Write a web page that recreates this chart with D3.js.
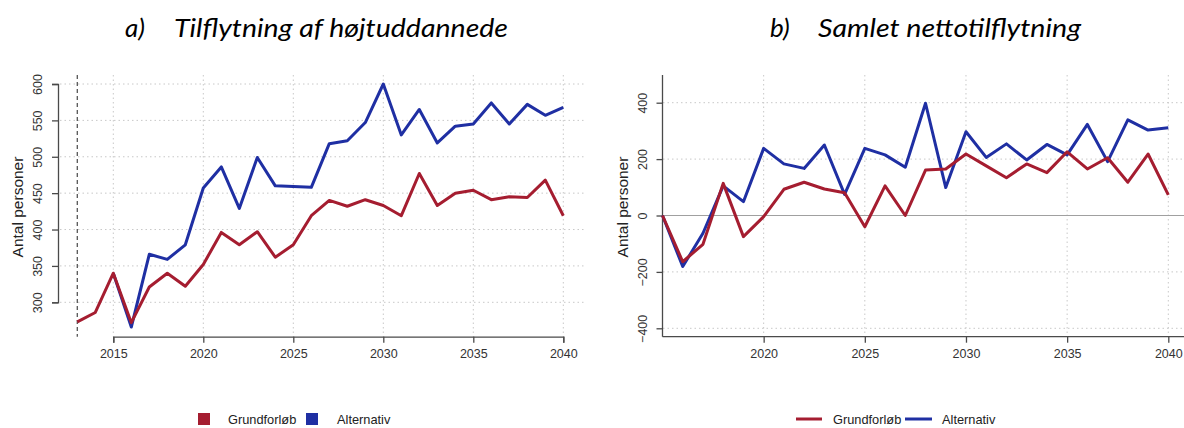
<!DOCTYPE html>
<html><head><meta charset="utf-8">
<script src="https://cdn.jsdelivr.net/npm/d3@7"></script>
<style>body{margin:0;background:#fff}svg{display:block}</style>
</head><body>
<svg id="c" width="1184" height="428"></svg>
<script>
// ---------- data ----------
const yearsA = d3.range(2013, 2041);
const grundA = [273,286,340,272,321,340,322,352,396,379,397,362,379,419,440,432,441,433,419,477,433,450,454,441,445,444,468,419];
const altYearsA = d3.range(2015, 2041);
const altA = [340,266,366,359,379,457,486,429,499,460,459,458,518,522,547,600,530,565,519,542,545,574,545,572,557,568];
const yearsB = d3.range(2015, 2041);
const grundB = [0,-164,-102,114,-75,-4,93,118,94,81,-40,105,0,161,165,218,176,134,183,152,226,165,205,118,218,73];
const altB = [0,-181,-63,105,49,238,183,167,250,75,238,215,171,398,99,297,206,254,197,252,215,323,191,339,303,311];
const xTicks = [2015,2020,2025,2030,2035,2040];
const xTicksB = [2020,2025,2030,2035,2040];
const yTicksA = [300,350,400,450,500,550,600];
const yTicksB = [-400,-200,0,200,400];
const titles = ["a)", "Tilflytning af højtuddannede", "b)", "Samlet nettotilflytning"];
const seriesNames = ["Grundforløb", "Alternativ"];
const colors = ["#a51d30", "#1f2fa3"];

const svg = d3.select("#c");
const font = "Liberation Sans, Arial, sans-serif";
const gridCol = "#c8c8c8", axisCol = "#4a4a4a", txtCol = "#333";

// ---------- titles ----------
const tf = "Lato, 'Open Sans', sans-serif";
function title(x, t, len) {
  const el = svg.append("text").attr("x", x).attr("y", 37).attr("font-family", tf)
    .attr("font-style", "italic").attr("font-size", 26).attr("fill", "#000").text(t);
  if (len) el.attr("textLength", len).attr("lengthAdjust", "spacingAndGlyphs");
}
title(125, titles[0]); title(174, titles[1], 334);
title(770, titles[2]); title(818, titles[3], 263);

// ---------- panel A ----------
const xA = d3.scaleLinear().domain([2015, 2040]).range([113.3, 563.3]);
const yA = d3.scaleLinear().domain([300, 600]).range([302.3, 84]);
const gA = svg.append("g");
const topY = 75, botY = 336.7;
gA.selectAll(".vg").data(xTicks).join("line").attr("x1", d => xA(d)).attr("x2", d => xA(d))
  .attr("y1", topY).attr("y2", botY).attr("stroke", gridCol).attr("stroke-dasharray", "1.5,3");
gA.selectAll(".hg").data(yTicksA).join("line").attr("x1", 60).attr("x2", 584)
  .attr("y1", d => yA(d)).attr("y2", d => yA(d)).attr("stroke", gridCol).attr("stroke-dasharray", "1.5,3");
gA.append("line").attr("x1", xA(2013)).attr("x2", xA(2013)).attr("y1", topY).attr("y2", botY)
  .attr("stroke", "#555").attr("stroke-width", 1.3).attr("stroke-dasharray", "4,3");
const axA = gA.append("g").attr("transform", `translate(0,${botY})`)
  .call(d3.axisBottom(xA).tickValues(xTicks).tickFormat(d3.format("d")).tickSizeOuter(0).tickSize(6));
const ayA = gA.append("g").attr("transform", "translate(58,0)")
  .call(d3.axisLeft(yA).tickValues(yTicksA).tickSizeOuter(0).tickSize(6));
[axA, ayA].forEach(a => {
  a.select(".domain").attr("stroke", axisCol).attr("stroke-width", 1.3);
  a.selectAll(".tick line").attr("stroke", axisCol).attr("stroke-width", 1.3);
  a.selectAll("text").attr("font-family", font).attr("font-size", 12.5).attr("fill", txtCol);
});
axA.selectAll("text").attr("y", 12);
ayA.selectAll(".tick text").attr("x", 0).attr("dy", null)
  .attr("transform", "translate(-20,0) rotate(-90)").attr("text-anchor", "middle").attr("dominant-baseline", "central");
svg.append("text").attr("transform", "translate(17,207) rotate(-90)").attr("text-anchor", "middle")
  .attr("dominant-baseline", "central").attr("font-family", font).attr("font-size", 15.5).attr("fill", "#222").text("Antal personer");
const lineA = d3.line().x(d => xA(d[0])).y(d => yA(d[1]));
gA.append("path").datum(d3.zip(altYearsA, altA)).attr("d", lineA).attr("fill", "none")
  .attr("stroke", colors[1]).attr("stroke-width", 3).attr("stroke-linejoin", "round");
gA.append("path").datum(d3.zip(yearsA, grundA)).attr("d", lineA).attr("fill", "none")
  .attr("stroke", colors[0]).attr("stroke-width", 3).attr("stroke-linejoin", "round");

// ---------- panel B ----------
const xB = d3.scaleLinear().domain([2015, 2040]).range([662.5, 1168.3]);
const yB = d3.scaleLinear().domain([-400, 400]).range([328.3, 102.7]);
const gB = svg.append("g");
gB.selectAll(".vg").data(xTicksB).join("line").attr("x1", d => xB(d)).attr("x2", d => xB(d))
  .attr("y1", topY).attr("y2", botY).attr("stroke", gridCol).attr("stroke-dasharray", "1.5,3");
gB.selectAll(".hg").data(yTicksB.filter(d => d !== 0)).join("line").attr("x1", 663).attr("x2", 1184)
  .attr("y1", d => yB(d)).attr("y2", d => yB(d)).attr("stroke", gridCol).attr("stroke-dasharray", "1.5,3");
gB.append("line").attr("x1", 663).attr("x2", 1184).attr("y1", yB(0)).attr("y2", yB(0))
  .attr("stroke", "#a0a0a0").attr("stroke-width", 1);
const axB = gB.append("g").attr("transform", `translate(0,${botY})`)
  .call(d3.axisBottom(xB).tickValues(xTicksB).tickFormat(d3.format("d")).tickSizeOuter(0).tickSize(6));
axB.select(".domain").attr("d", `M662.5,0H1184`);
const ayB = gB.append("g").attr("transform", "translate(662.5,0)")
  .call(d3.axisLeft(yB).tickValues(yTicksB).tickSizeOuter(0).tickSize(6));
ayB.select(".domain").attr("d", `M0,${topY}V${botY}`);
[axB, ayB].forEach(a => {
  a.select(".domain").attr("stroke", axisCol).attr("stroke-width", 1.3);
  a.selectAll(".tick line").attr("stroke", axisCol).attr("stroke-width", 1.3);
  a.selectAll("text").attr("font-family", font).attr("font-size", 12.5).attr("fill", txtCol);
});
axB.selectAll("text").attr("y", 12);
ayB.selectAll(".tick text").attr("x", 0).attr("dy", null)
  .attr("transform", "translate(-20,0) rotate(-90)").attr("text-anchor", "middle").attr("dominant-baseline", "central");
svg.append("text").attr("transform", "translate(622,207) rotate(-90)").attr("text-anchor", "middle")
  .attr("dominant-baseline", "central").attr("font-family", font).attr("font-size", 15.5).attr("fill", "#222").text("Antal personer");
const lineB = d3.line().x(d => xB(d[0])).y(d => yB(d[1]));
gB.append("path").datum(d3.zip(yearsB, altB)).attr("d", lineB).attr("fill", "none")
  .attr("stroke", colors[1]).attr("stroke-width", 3).attr("stroke-linejoin", "round");
gB.append("path").datum(d3.zip(yearsB, grundB)).attr("d", lineB).attr("fill", "none")
  .attr("stroke", colors[0]).attr("stroke-width", 3).attr("stroke-linejoin", "round");

// ---------- legends ----------
const legY = 419;
const la = svg.append("g");
la.append("rect").attr("x", 198).attr("y", legY - 6).attr("width", 12).attr("height", 12).attr("fill", colors[0]);
la.append("text").attr("x", 228).attr("y", legY).attr("dominant-baseline", "central").attr("font-family", font)
  .attr("font-size", 12.8).attr("fill", "#222").text(seriesNames[0]);
la.append("rect").attr("x", 306).attr("y", legY - 6).attr("width", 12).attr("height", 12).attr("fill", colors[1]);
la.append("text").attr("x", 337).attr("y", legY).attr("dominant-baseline", "central").attr("font-family", font)
  .attr("font-size", 12.8).attr("fill", "#222").text(seriesNames[1]);
const lb = svg.append("g");
lb.append("line").attr("x1", 796).attr("x2", 822).attr("y1", legY).attr("y2", legY).attr("stroke", colors[0]).attr("stroke-width", 3);
lb.append("text").attr("x", 833).attr("y", legY).attr("dominant-baseline", "central").attr("font-family", font)
  .attr("font-size", 12.8).attr("fill", "#222").text(seriesNames[0]);
lb.append("line").attr("x1", 905).attr("x2", 932).attr("y1", legY).attr("y2", legY).attr("stroke", colors[1]).attr("stroke-width", 3);
lb.append("text").attr("x", 942).attr("y", legY).attr("dominant-baseline", "central").attr("font-family", font)
  .attr("font-size", 12.8).attr("fill", "#222").text(seriesNames[1]);
</script>
</body></html>
